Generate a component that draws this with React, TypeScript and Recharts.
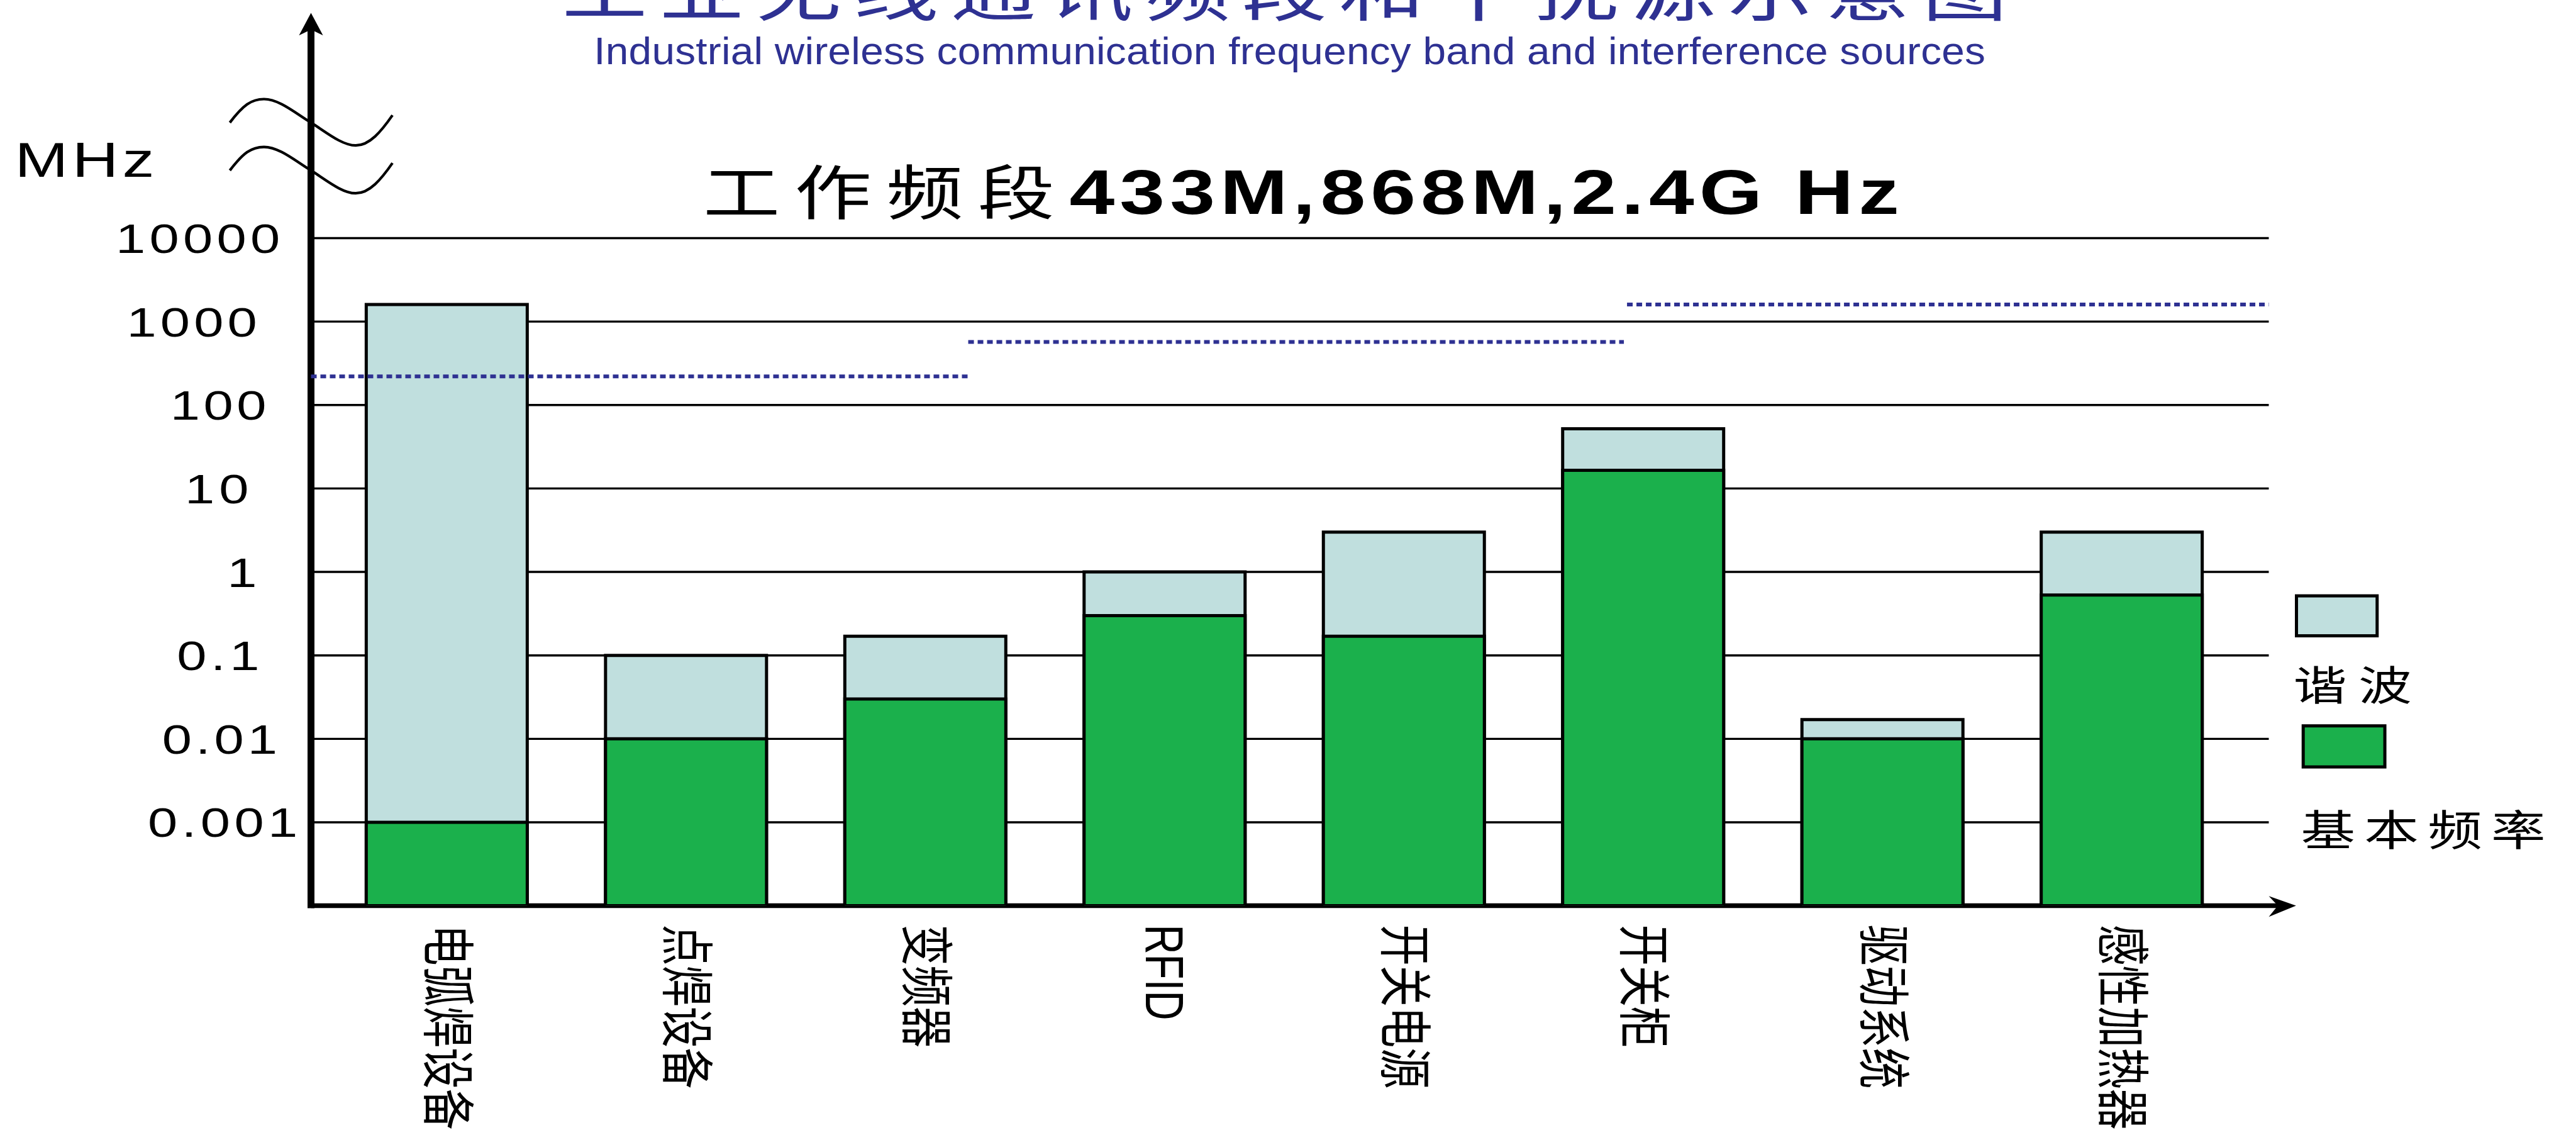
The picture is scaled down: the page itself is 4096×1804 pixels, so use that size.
import React from 'react';
import { BarChart, Bar, XAxis, YAxis, CartesianGrid, ReferenceLine, Customized } from 'recharts';

const W = 4096;
const H = 1804;
// measurements below are taken on the 1568px wide preview, p() turns them into output px
const S = W / 1568;
const p = (v: number) => v * S;

const categories = ['电弧焊设备', '点焊设备', '变频器', 'RFID', '开关电源', '开关柜', '驱动系统', '感性加热器'];
const fundamental = [0.001, 0.01, 0.03, 0.3, 0.17, 16.5, 0.01, 0.53];
const harmonic = [1600, 0.1, 0.17, 1, 3, 52, 0.017, 3];
const yTicks = [0.001, 0.01, 0.1, 1, 10, 100, 1000, 10000];

// working bands drawn as dashed lines (level in MHz, extent as share of the x axis)
const bandLevel = [220, 570, 1600];
const bandFrom = [0, 0.3357, 0.6722];
const bandTo = [0.3366, 0.6706, 1];

const data = categories.map((name, i) => ({ name, fundamental: fundamental[i], harmonic: harmonic[i] }));

const FONT = '"Liberation Sans", Arial, "Noto Sans CJK SC", sans-serif';
const BLUE = '#2E3192';
const HARM = '#C0DFDE';
const GREEN = '#1BB04C';

const AX_X = 189.3;
const TOP_Y = 144.9;
const RIGHT_X = 1381;
const BOT_Y = 551.1;

// left/right visual edges of the y labels
const TICK_BOX: Record<string, [number, number]> = {
  '10000': [73.9, 169.1],
  '1000': [80.6, 155.2],
  '100': [107.1, 160.8],
  '10': [116.0, 150.1],
  '1': [141.8, 150.7],
  '0.1': [109.1, 151.9],
  '0.01': [100.1, 162.8],
  '0.001': [91.4, 175.2],
};
const LSB: Record<string, number> = { '0': 1.4, '1': 3.5 };
const RSB: Record<string, number> = { '0': 1.3, '1': 6 };

const WideText = ({ x, y, w, fs, sx = 1.3, fill = '#000', weight = 'normal', children }: any) => (
  <text
    transform={`translate(${p(x)} ${p(y)}) scale(${sx} 1)`}
    fontSize={p(fs)}
    fontFamily={FONT}
    fontWeight={weight}
    fill={fill}
    textLength={p(w) / sx}
    lengthAdjust="spacing"
  >
    {children}
  </text>
);

const YTick = (props: any) => {
  const label = String(props.payload.value);
  const box = TICK_BOX[label];
  if (!box) return null;
  const [l, r] = box;
  const a = LSB[label[0]] ?? 1.4;
  const b = RSB[label[label.length - 1]] ?? 1.3;
  return (
    <text
      transform={`translate(${p(l - a)} ${props.y + p(9)}) scale(1.3 1)`}
      fontSize={p(25)}
      fontFamily={FONT}
      fill="#000"
      textLength={p(r - l + a + b) / 1.3}
      lengthAdjust="spacing"
    >
      {label}
    </text>
  );
};

const XTick = (props: any) => (
  <text
    transform={`translate(${props.x} ${p(562.5)}) rotate(90) scale(1 1.3)`}
    fontSize={p(25)}
    fontFamily={FONT}
    dominantBaseline="central"
    fill="#000"
  >
    {props.payload.value}
  </text>
);

const wave = (dy: number) =>
  `M ${p(139.9)} ${p(74.6 + dy)} C ${p(148)} ${p(64 + dy)} ${p(153)} ${p(60.3 + dy)} ${p(160.7)} ${p(60.3 + dy)} ` +
  `C ${p(170)} ${p(60.3 + dy)} ${p(180)} ${p(69 + dy)} ${p(189.3)} ${p(74.6 + dy)} ` +
  `C ${p(198)} ${p(80 + dy)} ${p(208)} ${p(88.5 + dy)} ${p(216.5)} ${p(88.5 + dy)} ` +
  `C ${p(225)} ${p(88.5 + dy)} ${p(232)} ${p(80 + dy)} ${p(238.9)} ${p(70.1 + dy)}`;

const Decor = () => (
  <g>
    {/* title, cut by the top edge as in the source */}
    <WideText x={342} y={9} w={880} fs={40} fill={BLUE}>工业无线通讯频段和干扰源示意图</WideText>
    <WideText x={361.5} y={39.1} w={847} fs={23.3} sx={1.08} fill={BLUE}>
      Industrial wireless communication frequency band and interference sources
    </WideText>
    <WideText x={428} y={130.5} w={214} fs={36}>工作频段</WideText>
    <WideText x={651} y={130} w={505} fs={38} weight="bold">433M,868M,2.4G Hz</WideText>
    <WideText x={9} y={107.6} w={85} fs={30}>MHz</WideText>

    {/* axis extensions and arrows */}
    <line x1={p(AX_X)} y1={p(17)} x2={p(AX_X)} y2={p(BOT_Y) + 4} stroke="#000" strokeWidth={11} />
    <polygon
      points={`${p(AX_X)},${p(7.8)} ${p(182)},${p(21.5)} ${p(AX_X)},${p(18)} ${p(196.6)},${p(21.5)}`}
      fill="#000"
    />
    <line x1={p(AX_X)} y1={p(BOT_Y)} x2={p(1388)} y2={p(BOT_Y)} stroke="#000" strokeWidth={7.5} />
    <polygon
      points={`${p(1397.6)},${p(BOT_Y)} ${p(1381)},${p(545.2)} ${p(1386.5)},${p(BOT_Y)} ${p(1381)},${p(557.9)}`}
      fill="#000"
    />

    {/* axis break */}
    <path d={wave(0)} fill="none" stroke="#000" strokeWidth={4.2} />
    <path d={wave(29.1)} fill="none" stroke="#000" strokeWidth={4.2} />

    {/* legend */}
    <rect x={p(1397.85)} y={p(362.55)} width={p(49.1)} height={p(24.3)} fill={HARM} stroke="#000" strokeWidth={5} />
    <WideText x={1396} y={426} w={72} fs={25}>谐波</WideText>
    <rect x={p(1401.95)} y={p(441.65)} width={p(49.7)} height={p(25)} fill={GREEN} stroke="#000" strokeWidth={5} />
    <WideText x={1400.5} y={514.6} w={149} fs={25.5}>基本频率</WideText>
  </g>
);

const App: React.FC = () => {
  const margin = {
    top: p(TOP_Y),
    right: W - p(RIGHT_X),
    bottom: H - p(BOT_Y) - 1,
    left: p(AX_X) - 1,
  };
  const pad = { left: p(9.9), right: p(16.6) };

  return (
    <div style={{ position: 'absolute', left: 0, top: 0, width: W, height: H, background: '#fff', overflow: 'hidden' }}>
      <BarChart width={W} height={H} data={data} margin={margin}>
        <CartesianGrid xAxisId="cat" vertical={false} stroke="#000" strokeWidth={3.4} />
        <XAxis
          xAxisId="cat"
          dataKey="name"
          padding={pad}
          height={1}
          interval={0}
          tickLine={false}
          axisLine={false}
          tick={(props: any) => <XTick {...props} />}
        />
        <XAxis xAxisId="top" dataKey="name" padding={pad} hide />
        <XAxis xAxisId="band" dataKey="share" type="number" domain={[0, 1]} allowDataOverflow hide />
        <YAxis
          scale="log"
          domain={[0.0001, 10000]}
          allowDataOverflow
          ticks={yTicks}
          interval={0}
          width={1}
          tickLine={false}
          axisLine={false}
          tick={(props: any) => <YTick {...props} />}
        />
        <Bar
          xAxisId="cat"
          dataKey="harmonic"
          name="谐波"
          barSize={p(98)}
          fill={HARM}
          stroke="#000"
          strokeWidth={5}
          isAnimationActive={false}
        />
        <Bar
          xAxisId="top"
          dataKey="fundamental"
          name="基本频率"
          barSize={p(98)}
          fill={GREEN}
          stroke="#000"
          strokeWidth={5}
          isAnimationActive={false}
        />
        {bandLevel.map((lv, i) => (
          <ReferenceLine
            key={i}
            xAxisId="band"
            segment={[{ x: bandFrom[i], y: lv }, { x: bandTo[i], y: lv }]}
            stroke={BLUE}
            strokeWidth={6}
            strokeDasharray="9 6"
            ifOverflow="visible"
          />
        ))}
        <Customized component={<Decor />} />
      </BarChart>
    </div>
  );
};

export default App;
